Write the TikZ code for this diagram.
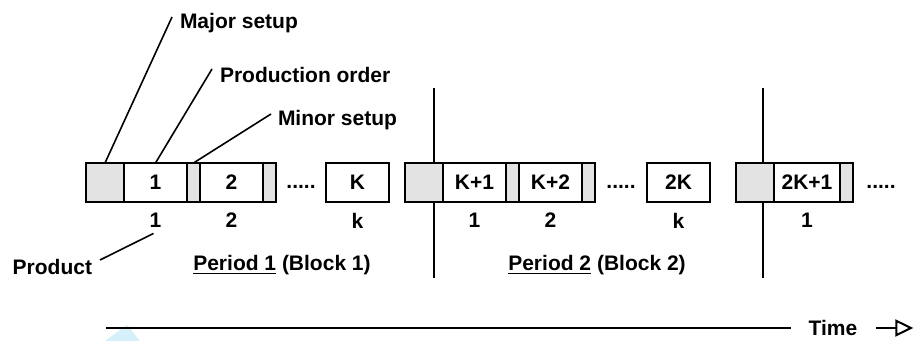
\documentclass[tikz,border=0pt]{standalone}
\usepackage{fontspec}
\setmainfont{Liberation Sans}
\usetikzlibrary{positioning,arrows.meta}

\definecolor{setupgray}{RGB}{227,227,227}
\definecolor{pointerblue}{RGB}{214,240,250}

\tikzset{
  every node/.style={font=\fontsize{10.5}{12.6}\selectfont\bfseries, inner sep=0pt, outer sep=0pt},
  slot/.style={draw, line width=1pt, minimum height=19.5pt},
  majorsetup/.style={slot, fill=setupgray, minimum width=19pt},
  minorsetup/.style={slot, fill=setupgray, minimum width=6.5pt},
  order/.style={slot, fill=white, minimum width=31.5pt},
  leader/.style={line width=0.8pt},
  divider/.style={line width=1pt},
}

\begin{document}
\begin{tikzpicture}[x=0.5pt,y=-0.5pt]
    \useasboundingbox (0,0) rectangle (916,341);

    % pale pointer at the bottom
    \fill[pointerblue] (105,341) -- (127,325) -- (140,341) -- cycle;

    % Period dividers
    \draw[divider] (434,88) -- (434,278);
    \draw[divider] (763,88) -- (763,278);

    % Period 1
    \node[majorsetup, anchor=north west] (maj1) at (86,163) {};
    \node[order, right=0pt of maj1] (o1) {1};
    \node[minorsetup, right=0pt of o1] (mn1) {};
    \node[order, right=0pt of mn1] (o2) {2};
    \node[minorsetup, right=0pt of o2] (mn2) {};
    \node (dots1) at (301,187) {.....};
    \node[order, anchor=north west] (oK) at (326,163) {K};

    % Period 2
    \node[majorsetup, anchor=north west] (maj2) at (405,163) {};
    \node[order, right=0pt of maj2] (oK1) {K+1};
    \node[minorsetup, right=0pt of oK1] (mn3) {};
    \node[order, right=0pt of mn3] (oK2) {K+2};
    \node[minorsetup, right=0pt of oK2] (mn4) {};
    \node (dots2) at (621,187) {.....};
    \node[order, anchor=north west] (o2K) at (647,163) {2K};

    % Period 3
    \node[majorsetup, anchor=north west] (maj3) at (736,163) {};
    \node[order, minimum width=33pt, right=0pt of maj3] (o2K1) {2K+1};
    \node[minorsetup, right=0pt of o2K1] (mn5) {};
    \node (dots3) at (881,187) {.....};

    % Product numbers
    \node[below=5.5pt of o1] (p1) {1};
    \node[below=5.5pt of o2] (p2) {2};
    \node[below=5.5pt of oK] (pk) {k};
    \node[below=5.5pt of oK1] (q1) {1};
    \node[below=5.5pt of oK2] (q2) {2};
    \node[below=5.5pt of o2K] (qk) {k};
    \node[below=5.5pt of o2K1] (r1) {1};

    % Period labels
    \node (per1) at (282,265) {\underline{Period 1} (Block 1)};
    \node (per2) at (597,265) {\underline{Period 2} (Block 2)};

    % Callouts
    \node[anchor=west] (lblmajor) at (180,23) {Major setup};
    \node[anchor=west] (lblorder) at (220,75) {Production order};
    \node[anchor=west] (lblminor) at (278,120) {Minor setup};
    \node[anchor=east] (lblprod) at (92,267) {Product};
    \draw[leader] ([shift={(-8,-6)}]lblmajor.west) -- (maj1.north);
    \draw[leader] ([shift={(-8,-6)}]lblorder.west) -- (o1.north);
    \draw[leader] ([shift={(-7,-6)}]lblminor.west) -- (mn1.north);
    \draw[leader] ([shift={(8,-7)}]lblprod.east) -- ([shift={(-2,6)}]p1.south);

    % Time axis
    \node (time) at (833,328) {Time};
    \coordinate (axisstart) at (106,328);
    \draw[divider] (axisstart) -- ([shift={(-18,0)}]time.west);
    \draw[divider, -{Triangle[open, length=9pt, width=8.5pt]}] ([shift={(19,0)}]time.east) -- ([shift={(56,0)}]time.east);
\end{tikzpicture}
\end{document}
